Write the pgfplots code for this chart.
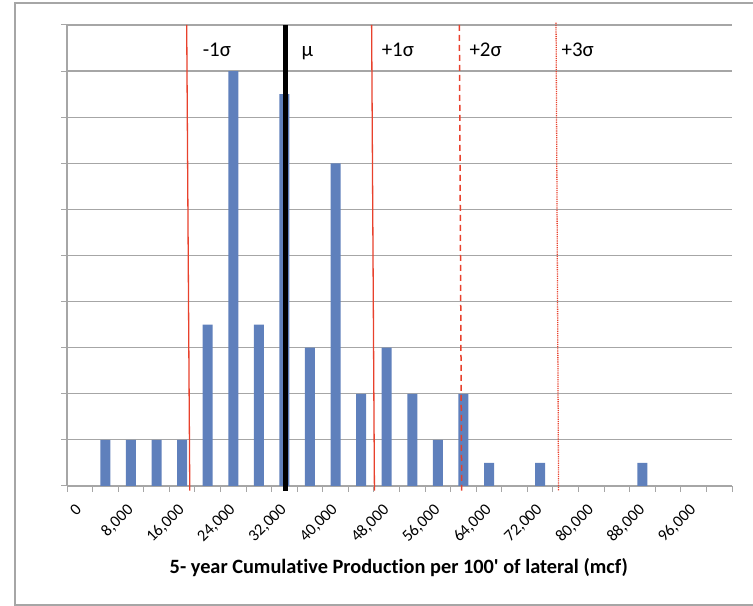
\documentclass[border=0pt]{standalone}
\usepackage{pgfplots}
\pgfplotsset{compat=1.18}
\usepackage{fontspec}
\setmainfont{Carlito}[Ligatures=NoCommon]
\definecolor{barblue}{HTML}{5F80BC}
\definecolor{gridgray}{HTML}{A6A6A6}
\definecolor{sigred}{HTML}{E8412C}
\begin{document}
\begin{tikzpicture}[x=1bp,y=1bp]
\useasboundingbox (0,0) rectangle (753,606);
\draw[gridgray, line width=1.2bp] (770,603) -- (15,603) -- (15,1) -- (770,1);
\begin{axis}[
  at={(67bp,120bp)}, anchor=south west,
  scale only axis, width=665bp, height=461bp,
  xmin=-0.5, xmax=25.5, ymin=0, ymax=20,
  clip=false,
  axis x line*=bottom, axis y line*=left,
  axis line style={gridgray, line width=1.2bp},
  ytick={0,2,...,20}, yticklabels={},
  ymajorgrids, grid style={gridgray, line width=1.2bp},
  tick align=outside, major tick length=6bp,
  tick style={gridgray, line width=1bp},
  xtick={-0.5,0.5,...,25.5}, xticklabels={},
  extra x ticks={0,2,...,24},
  extra x tick labels={0,{8,000},{16,000},{24,000},{32,000},{40,000},{48,000},{56,000},{64,000},{72,000},{80,000},{88,000},{96,000}},
  extra x tick style={tick style={draw=none},
    tick label style={xshift=-5bp, yshift=-9bp, rotate=45, anchor=north east, font=\fontsize{16.5}{19}\selectfont, inner sep=1bp}},
  xlabel={5- year Cumulative Production per 100\textquotesingle{} of lateral (mcf)},
  xlabel style={at={(axis description cs:0.499,-0.176)}, anchor=center, font=\fontsize{20.4}{24}\selectfont\bfseries},
]
\addplot[ybar, bar width=10bp, fill=barblue, draw=none] coordinates {
(1,2)(2,2)(3,2)(4,2)(5,7)(6,18)(7,7)(8,17)(9,6)(10,14)(11,4)(12,6)(13,4)(14,2)(15,4)(16,1)(18,1)(22,1)};
\addplot[sigred, line width=1.3bp] coordinates {(4.18,20) (4.30,-0.2)};
\addplot[black, line width=4.5bp] coordinates {(8.05,20) (8.05,-0.2)};
\addplot[sigred, line width=1.3bp] coordinates {(11.41,20) (11.52,-0.2)};
\addplot[sigred, line width=1.5bp, dash pattern=on 6bp off 4bp] coordinates {(14.84,20) (14.93,-0.2)};
\addplot[sigred, line width=1.3bp, dash pattern=on 1.2bp off 1bp] coordinates {(18.62,20.1) (18.72,-0.2)};
\node[anchor=base west, inner sep=0, font=\fontsize{21}{25}\selectfont] at (axis cs:4.80,18.65) {-1σ};
\node[anchor=base west, inner sep=0, font=\fontsize{21}{25}\selectfont] at (axis cs:8.67,18.65) {μ};
\node[anchor=base west, inner sep=0, font=\fontsize{21}{25}\selectfont] at (axis cs:11.80,18.65) {+1σ};
\node[anchor=base west, inner sep=0, font=\fontsize{21}{25}\selectfont] at (axis cs:15.23,18.65) {+2σ};
\node[anchor=base west, inner sep=0, font=\fontsize{21}{25}\selectfont] at (axis cs:18.83,18.65) {+3σ};
\end{axis}
\end{tikzpicture}
\end{document}
